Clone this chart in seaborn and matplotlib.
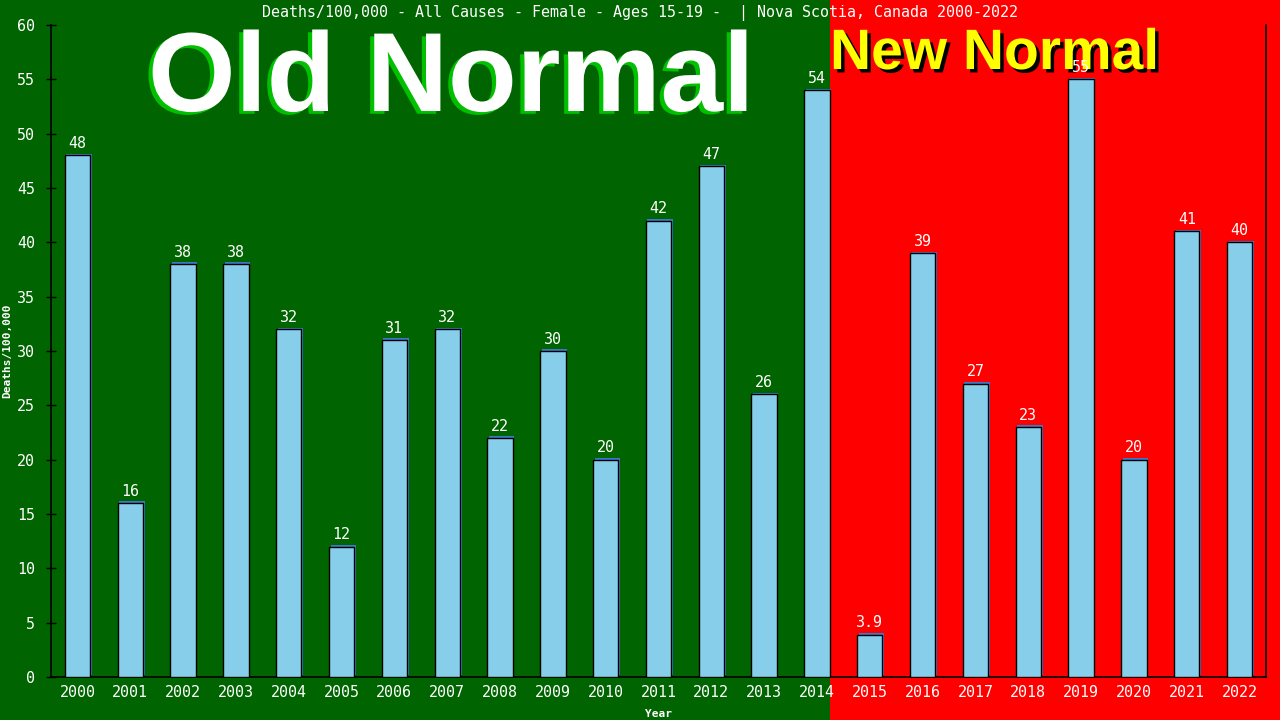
import matplotlib
matplotlib.use('Agg')
import matplotlib.pyplot as plt
import matplotlib.patheffects as pe
import matplotlib.transforms as mtransforms
from matplotlib.patches import Rectangle
import seaborn as sns

# Data
years = [str(y) for y in range(2000, 2023)]
deaths = [48, 16, 38, 38, 32, 12, 31, 32, 22, 30, 20, 42, 47, 26, 54,
          3.9, 39, 27, 23, 55, 20, 41, 40]
title = 'Deaths/100,000 - All Causes - Female - Ages 15-19 -  | Nova Scotia, Canada 2000-2022'
split_index = 14  # last year of the "Old Normal" period

sns.set_style('white')
plt.rcParams['font.family'] = ['DejaVu Sans Mono']

fig = plt.figure(figsize=(12.8, 7.2), dpi=100, facecolor='#ff0000')
ax = fig.add_axes([51 / 1280, 1 - 677 / 720, 1215 / 1280, 652 / 720])
ax.set_facecolor('none')

sns.barplot(x=years, y=deaths, color='skyblue', saturation=1, width=0.48,
            edgecolor='black', linewidth=1, ax=ax, zorder=3)
for bar in ax.patches:
    bar.set_path_effects([pe.SimplePatchShadow(offset=(1.2, 1.2), shadow_rgbFace='#3c78c8', alpha=1),
                          pe.Normal()])

# green backdrop for the old-normal years
trans = mtransforms.blended_transform_factory(ax.transData, fig.transFigure)
fig.add_artist(Rectangle((-5, 0), split_index + 0.24 + 5, 1, transform=trans,
                         facecolor='#006400', edgecolor='none', zorder=-1))

ax.set_xlim(-0.5, len(years) - 0.5)
ax.set_ylim(0, 60)
ax.set_yticks(range(0, 61, 5))

for side in ['left', 'bottom', 'right']:
    ax.spines[side].set_visible(True)
    ax.spines[side].set_color('black')
    ax.spines[side].set_linewidth(1.2)
ax.spines['top'].set_visible(False)

ax.tick_params(axis='y', direction='inout', length=7, width=1, color='black',
               labelcolor='white', labelsize=10.8, pad=8, left=True)
ax.tick_params(axis='x', length=0, labelcolor='white', labelsize=10.8, pad=6)

ax.set_xlabel('Year', color='white', fontsize=8, fontweight='bold')
ax.set_ylabel('Deaths/100,000', color='white', fontsize=8, fontweight='bold')
ax.xaxis.set_label_coords(0.5, -32 / 652)
ax.yaxis.set_label_coords(-39 / 1215, 0.5)

fig.text(0.5, 1 - 13 / 720, title, color='white', fontsize=10.8,
         ha='center', va='center')

# big period captions sit behind the axes so the value labels stay on top
fig.text(148 / 1280, 1 - 111 / 720, 'Old Normal', color='white', fontsize=81,
         fontweight='bold', family='Liberation Sans', ha='left', va='baseline',
         zorder=-0.5,
         path_effects=[pe.withSimplePatchShadow(offset=(-3, -2), shadow_rgbFace='#00c000', alpha=1)])
fig.text(830 / 1280, 1 - 69 / 720, 'New Normal', color='#ffff00', fontsize=41,
         fontweight='bold', family='Liberation Sans', ha='left', va='baseline',
         zorder=-0.5,
         path_effects=[pe.withSimplePatchShadow(offset=(2.5, -2.5), shadow_rgbFace='black', alpha=1)])

for i, v in enumerate(deaths):
    ax.annotate(f'{v:.2g}', (i, v), xytext=(0, 3), textcoords='offset points',
                ha='center', va='bottom', color='white', fontsize=10.8, zorder=10)

fig.savefig('out.png', dpi=100, facecolor=fig.get_facecolor())
